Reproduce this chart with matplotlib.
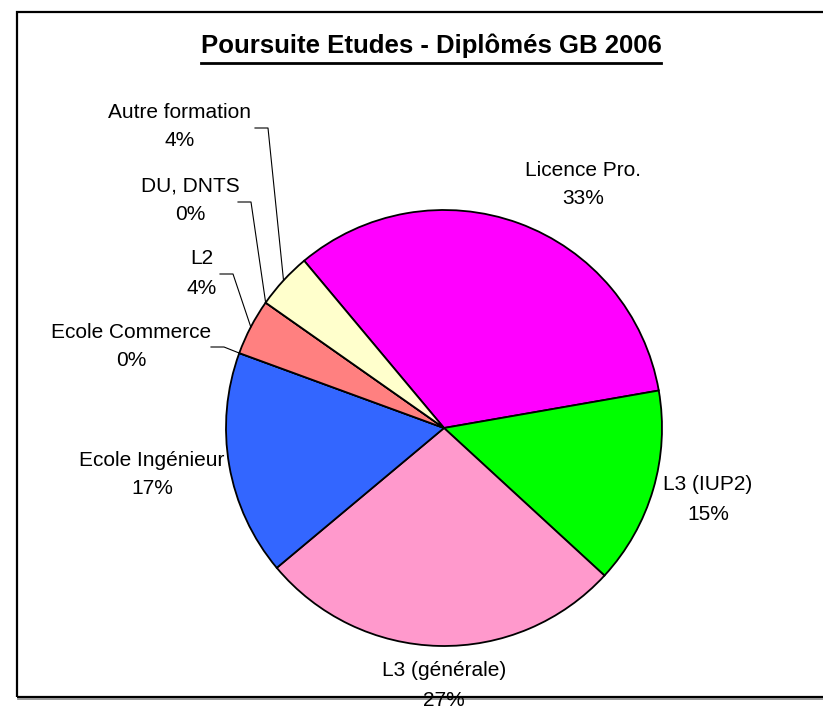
import numpy as np
import matplotlib
matplotlib.use("Agg")
import matplotlib.pyplot as plt
from matplotlib.patches import Rectangle
from matplotlib.lines import Line2D

plt.rcParams['font.family'] = ['Liberation Sans', 'DejaVu Sans']

# donnees (nombre de diplomes par poursuite d'etudes)
categories = ["Licence Pro.", "L3 (IUP2)", "L3 (générale)", "Ecole Ingénieur",
              "Ecole Commerce", "L2", "DU, DNTS", "Autre formation"]
effectifs = [16, 7, 13, 8, 0, 2, 0, 2]
couleurs = ["#FF00FF", "#00FF00", "#FF99CC", "#3366FF",
            "#FFFFFF", "#FF8080", "#FFFFFF", "#FFFFCC"]
titre = "Poursuite Etudes - Diplômés GB 2006"

W, H = 823, 708
def Y(y):
    return H - y

# position des etiquettes (pixels, centre de la 1re ligne)
pos_etiq = [(583, 170), (708, 485), (444, 671), (152, 460),
            (131, 332), (202, 259), (190, 186), (180, 112)]
# depart des traits de rappel (index -> point cote etiquette)
rappels = {7: (255, 128), 6: (238, 202), 5: (220, 274), 4: (211, 347)}

fig = plt.figure(figsize=(W / 100, H / 100), dpi=100)
ax = fig.add_axes([0, 0, 1, 1])

# cadre du graphique
ax.add_patch(Rectangle((17, Y(697)), 900, 685, fill=False, lw=1.6, ec="black"))
ax.plot([18, W], [Y(699), Y(699)], color="#888888", lw=1.2)

cx, cy, r = 444, Y(428), 218
total = sum(effectifs)
wedges, _ = ax.pie(effectifs, colors=couleurs, startangle=129.9, counterclock=False,
                   center=(cx, cy), radius=r, frame=True,
                   wedgeprops=dict(edgecolor="black", linewidth=1.3))
ax.set_xlim(0, W)
ax.set_ylim(0, H)
ax.set_aspect('equal')
ax.axis('off')

for i, (nom, v) in enumerate(zip(categories, effectifs)):
    pct = round(100 * v / total)
    x, y = pos_etiq[i]
    ax.text(x, Y(y), nom, ha="center", va="center", fontsize=15)
    ax.text(x, Y(y + 29), f"{pct}%", ha="center", va="center", fontsize=15)
    if i in rappels:
        sx, sy = rappels[i]
        w = wedges[i]
        a = np.deg2rad((w.theta1 + w.theta2) / 2)
        ex, ey = cx + r * np.cos(a), cy + r * np.sin(a)
        ax.plot([sx, sx + 13, ex], [Y(sy), Y(sy), ey], color="black", lw=0.8)

t = ax.text(431, Y(53), titre, ha="center", va="baseline", fontsize=18.5, fontweight="bold")
fig.canvas.draw()
bb = t.get_window_extent().transformed(ax.transData.inverted())
ax.add_line(Line2D([bb.x0, bb.x1], [Y(63), Y(63)], color="black", lw=2))

fig.savefig("out.png", dpi=100)
